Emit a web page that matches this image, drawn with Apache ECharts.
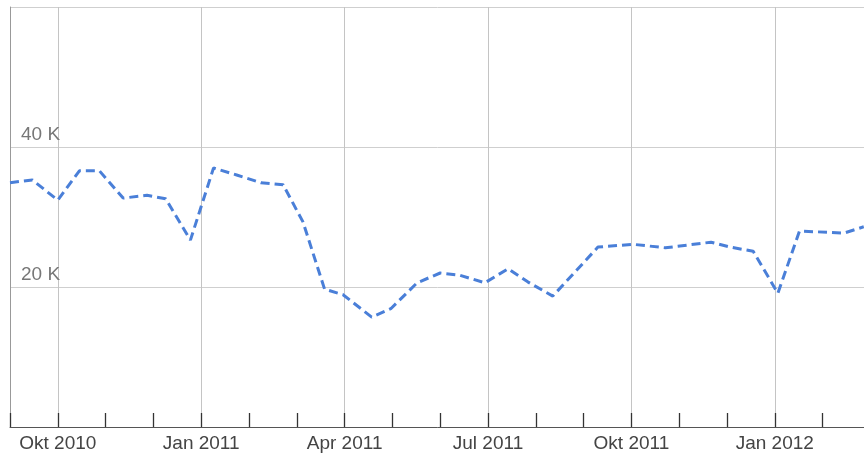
<!DOCTYPE html>
<html>
<head>
<meta charset="utf-8">
<script src="https://cdn.jsdelivr.net/npm/echarts@6/dist/echarts.min.js"></script>
<style>
html,body{margin:0;padding:0;background:#fff;}
#chart{width:864px;height:455px;}
</style>
</head>
<body>
<div id="chart"></div>
<script>
// Month categories along the x axis (uniform monthly ticks)
var months = ['Sep 2010','Okt 2010','Nov 2010','Dez 2010','Jan 2011','Feb 2011','Mär 2011',
  'Apr 2011','Mai 2011','Jun 2011','Jul 2011','Aug 2011','Sep 2011','Okt 2011','Nov 2011',
  'Dez 2011','Jan 2012','Feb 2012','Mär 2012'];
// Months that carry a label and a vertical grid line
var labelMonths = ['Okt 2010','Jan 2011','Apr 2011','Jul 2011','Okt 2011','Jan 2012'];
// Data points (dates and values)
var dates = ['2010-09-01','2010-09-15','2010-10-01','2010-10-15','2010-10-28','2010-11-12',
  '2010-11-27','2010-12-09','2010-12-25','2011-01-09','2011-01-24','2011-02-08','2011-02-21',
  '2011-03-05','2011-03-19','2011-03-31','2011-04-18','2011-04-30','2011-05-17','2011-06-01',
  '2011-06-13','2011-06-29','2011-07-14','2011-07-27','2011-08-12','2011-09-10','2011-10-02',
  '2011-10-23','2011-11-21','2011-12-03','2011-12-18','2012-01-03','2012-01-17','2012-02-14',
  '2012-02-26'];
var values = [34900,35300,32400,36600,36600,32700,33100,32600,26700,37000,36000,34900,34600,
  29300,19700,18900,15700,16900,20600,22000,21700,20600,22600,20700,18700,25700,26100,
  25600,26400,25700,25100,19100,28000,27700,28600];
var yTicks = {min:0, max:60000, step:20000};

function monthPos(s){
  var p = s.split('-').map(Number);
  var y = p[0], m = p[1], d = p[2];
  var dim = new Date(y, m, 0).getDate();
  return (y - 2010) * 12 + (m - 1) - 8 + (d - 1) / dim;
}
var seriesData = dates.map(function(d, i){ return [monthPos(d), values[i]]; });

var chart = echarts.init(document.getElementById('chart'), null, {renderer:'canvas'});
var font = 'Liberation Sans, Arial, Helvetica, sans-serif';
var isLabel = function(idx, val){ return labelMonths.indexOf(months[idx]) >= 0; };
chart.setOption({
  animation:false,
  backgroundColor:'#ffffff',
  grid:{left:10, width:860.4, top:7, bottom:28, containLabel:false, outerBoundsMode:'none'},
  xAxis:[{
    type:'category',
    data:months,
    boundaryGap:false,
    axisLine:{show:true, lineStyle:{color:'#555', width:1}},
    axisTick:{show:true, inside:true, length:14, interval:0, lineStyle:{color:'#333', width:1.3}},
    axisLabel:{show:true, interval:isLabel, margin:7, color:'#444', fontSize:19, fontFamily:font},
    splitLine:{show:true, interval:isLabel, lineStyle:{color:'#c4c4c4', width:1}}
  },{
    type:'value',
    min:0, max:months.length - 1,
    show:false,
    splitLine:{show:false}
  }],
  yAxis:{
    type:'value',
    min:yTicks.min, max:yTicks.max, interval:yTicks.step,
    axisLine:{show:true, lineStyle:{color:'#999', width:1}},
    axisTick:{show:false},
    axisLabel:{
      inside:true, margin:11, color:'#777', fontSize:19, fontFamily:font,
      verticalAlign:'bottom', padding:[0,0,3,0],
      formatter:function(v){ return (v === yTicks.min || v === yTicks.max) ? '' : (v/1000) + ' K'; }
    },
    splitLine:{show:true, lineStyle:{color:'#cfcfcf', width:1}}
  },
  series:[{
    type:'line',
    xAxisIndex:1,
    yAxisIndex:0,
    data:seriesData,
    showSymbol:false,
    smooth:false,
    lineStyle:{color:'#4a7fd8', width:3, type:[9,5]}
  }]
});
</script>
</body>
</html>
